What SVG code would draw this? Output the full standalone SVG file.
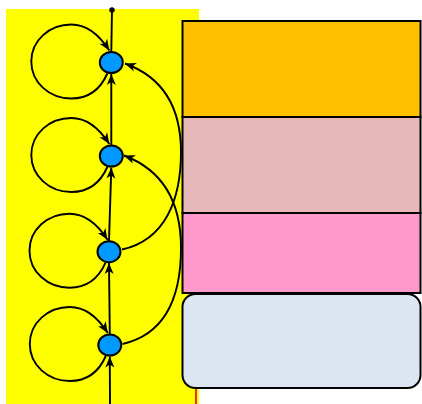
<svg xmlns="http://www.w3.org/2000/svg" width="422" height="404" viewBox="0 0 422 404">
<style>
.edge{fill:none;stroke:#000;stroke-width:1.9}
.arr{marker-end:url(#ah)}
.node{fill:#0099FF;stroke:#000;stroke-width:2}
.box{stroke:#000;stroke-width:2}
</style>
<defs>
<marker id="ah" markerUnits="userSpaceOnUse" markerWidth="12" markerHeight="10" refX="11" refY="4.5" orient="auto" overflow="visible">
<path d="M0,0 L11,4.5 L0,9 L3,4.5 z" fill="#000"/>
</marker>
<path id="loop" d="M-4,11 C-11,27 -23,36 -40,36 C-62,36 -80,20 -80,-1 C-80,-22 -62,-38 -40,-38 C-24,-38 -11,-26 -2,-12"/>
</defs>
<rect id="background" x="6" y="9" width="193" height="395" fill="#FFFF00"/>
<g id="boxes">
<rect id="box-orange" class="box" x="182.5" y="21" width="238" height="96" fill="#FFC000"/>
<rect id="box-rose" class="box" x="182.5" y="117" width="238" height="96" fill="#E6B8B7"/>
<rect id="box-pink" class="box" x="182.5" y="213" width="238" height="80" fill="#FF99CC"/>
<rect id="box-blue" class="box" x="182.5" y="294" width="238" height="94" rx="13" fill="#DCE6F2"/>
</g>
<line id="red-line" x1="196" y1="389" x2="196" y2="404" stroke="#E00000" stroke-width="1.6"/>
<g id="connectors">
<line class="edge" x1="112" y1="10" x2="111.3" y2="51"/>
<circle cx="112" cy="10" r="2.7" fill="#000"/>
<line class="edge arr" x1="111.3" y1="145" x2="111.3" y2="74"/>
<line class="edge arr" x1="109" y1="241" x2="111.3" y2="167.5"/>
<line class="edge arr" x1="109.8" y1="334" x2="109" y2="263"/>
<line class="edge arr" x1="110" y1="404" x2="109.8" y2="356.5"/>
<use href="#loop" class="edge arr" transform="translate(111.3,62.5)"/>
<use href="#loop" class="edge arr" transform="translate(111.3,156)"/>
<use href="#loop" class="edge arr" transform="translate(109.5,251.7)"/>
<use href="#loop" class="edge arr" transform="translate(109.8,345)"/>
<path class="edge arr" d="M122,249.5 C165,240 181,200 181,152 C181,110 165,78 125,63.5"/>
<path class="edge arr" d="M122.5,344 C166,334 181,296 181,248 C181,204 165,171 124,155.5"/>
</g>
<g id="node1"><ellipse class="node" cx="111.3" cy="62.5" rx="11.5" ry="10.5"/></g>
<g id="node2"><ellipse class="node" cx="111.3" cy="156" rx="11.5" ry="10.5"/></g>
<g id="node3"><ellipse class="node" cx="109" cy="251.7" rx="11.5" ry="10.5"/></g>
<g id="node4"><ellipse class="node" cx="109.8" cy="345" rx="11.5" ry="10.5"/></g>
</svg>
